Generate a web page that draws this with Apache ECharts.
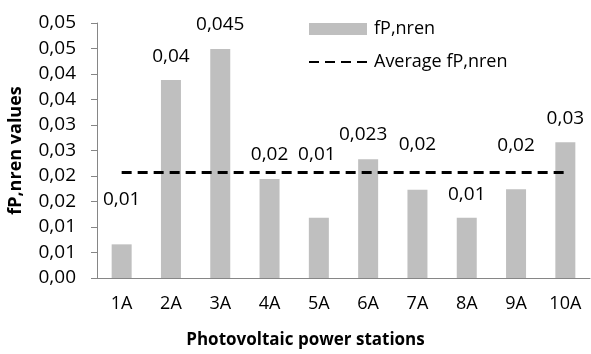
<!DOCTYPE html>
<html>
<head>
<meta charset="utf-8">
<script src="https://cdn.jsdelivr.net/npm/echarts@6/dist/echarts.min.js"></script>
<style>
  html, body { margin: 0; padding: 0; background: #fff; }
  #chart { width: 591px; height: 354px; }
</style>
</head>
<body>
<div id="chart"></div>
<script>
const stations = ["1A", "2A", "3A", "4A", "5A", "6A", "7A", "8A", "9A", "10A"];
const fpValues = [0.0066, 0.0388, 0.0449, 0.0194, 0.0118, 0.0233, 0.0173, 0.0118, 0.0174, 0.0266];
const fpLabels = ["0,01", "0,04", "0,045", "0,02", "0,01", "0,023", "0,02", "0,01", "0,02", "0,03"];
const averageValues = [0.0207, 0.0207, 0.0207, 0.0207, 0.0207, 0.0207, 0.0207, 0.0207, 0.0207, 0.0207];
const yTickLabels = ["0,00", "0,01", "0,01", "0,02", "0,02", "0,03", "0,03", "0,04", "0,04", "0,05", "0,05"];

// hand-placed labels in the original, nudged per bar
const labelDistance = [35, 14, 15, 15, 54, 15, 36, 14, 34, 14];
const labelShift = [0, 0, 0, 0, -2, -5, 0, 0, 0, 0];

const font = "'Open Sans', sans-serif";
const chart = echarts.init(document.getElementById("chart"));

chart.setOption({
  animation: false,
  textStyle: { fontFamily: font },
  grid: { left: 97, right: 1, top: 23, bottom: 76, outerBoundsMode: "none" },
  legend: {
    orient: "vertical",
    left: 303,
    top: 15,
    itemWidth: 58,
    itemHeight: 12,
    itemGap: 15,
    textStyle: { fontFamily: font, fontSize: 18, color: "#000", padding: [0, 0, 0, 2] },
    data: [
      { name: "fP,nren", icon: "rect" },
      { name: "Average fP,nren", itemStyle: { opacity: 0 } }
    ]
  },
  xAxis: {
    type: "category",
    data: stations,
    name: "Photovoltaic power stations",
    nameLocation: "middle",
    nameGap: 54,
    nameTextStyle: { fontFamily: font, fontSize: 17, fontWeight: "bold", color: "#000", padding: [0, 76, 0, 0] },
    axisLine: { lineStyle: { color: "#868686", width: 1 } },
    axisTick: { length: 6, lineStyle: { color: "#868686" } },
    axisLabel: { margin: 17, fontSize: 18, color: "#000", fontFamily: font }
  },
  yAxis: {
    type: "value",
    min: 0,
    max: 0.05,
    interval: 0.005,
    name: "fP,nren values",
    nameLocation: "middle",
    nameRotate: 90,
    nameGap: 72,
    nameTextStyle: { fontFamily: font, fontSize: 18, fontWeight: "bold", color: "#000" },
    splitLine: { show: false },
    axisLine: { show: true, lineStyle: { color: "#868686", width: 1 } },
    axisTick: { show: true, length: 6, lineStyle: { color: "#868686" } },
    axisLabel: {
      margin: 21,
      fontSize: 19,
      color: "#000",
      fontFamily: font,
      formatter: function (v) { return yTickLabels[Math.round(v / 0.005)]; }
    }
  },
  series: [
    {
      name: "fP,nren",
      type: "bar",
      barWidth: 20,
      itemStyle: { color: "#bfbfbf" },
      data: fpValues.map(function (v, i) {
        return {
          value: v,
          label: { distance: labelDistance[i], offset: [labelShift[i], 0] }
        };
      }),
      label: {
        show: true,
        position: "top",
        fontSize: 19,
        color: "#000",
        fontFamily: font,
        formatter: function (p) { return fpLabels[p.dataIndex]; }
      },
      z: 2
    },
    {
      name: "Average fP,nren",
      type: "line",
      data: averageValues,
      symbol: "none",
      lineStyle: { color: "#000", width: 3, type: [10, 6] },
      itemStyle: { color: "#000" },
      z: 3
    }
  ]
});
</script>
</body>
</html>
